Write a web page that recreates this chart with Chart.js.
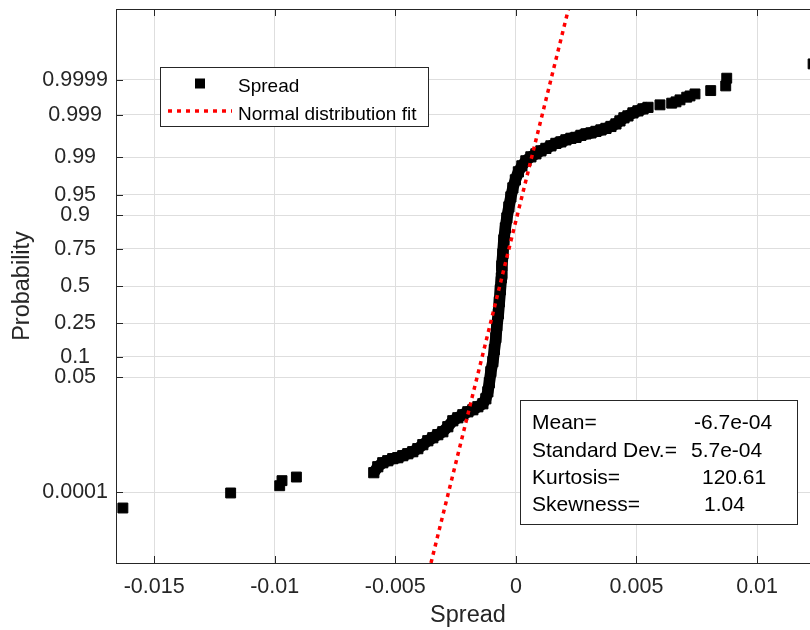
<!DOCTYPE html>
<html>
<head>
<meta charset="utf-8">
<script src="https://cdn.jsdelivr.net/npm/chart.js@4.4.0/dist/chart.umd.min.js"></script>
<style>
  html, body { margin: 0; padding: 0; background: #fff; overflow: hidden; }
  #wrap { width: 810px; height: 630px; overflow: hidden; }
</style>
</head>
<body>
<div id="wrap"><canvas id="probplot" width="830" height="630"></canvas></div>
<script>
// tick values
const xTicks = [-0.015, -0.01, -0.005, 0, 0.005, 0.01];
const probTicks = [0.0001, 0.05, 0.1, 0.25, 0.5, 0.75, 0.9, 0.95, 0.99, 0.999, 0.9999];

// dense part of the sample (spread value, plotting probability)
const spreadX = [-0.005892, -0.005726, -0.005519, -0.005311, -0.005104, -0.004896, -0.004689, -0.004481,
  -0.004274, -0.004066, -0.003859, -0.003651, -0.003444, -0.003237, -0.003029, -0.002822, -0.002614,
  -0.002407, -0.002199, -0.001992, -0.001784, -0.001577, -0.001369, -0.001245, -0.001162, -0.0011,
  -0.001037, -0.000954, -0.000892, -0.00083, -0.000788, -0.000726, -0.000685, -0.000643, -0.000602,
  -0.000581, -0.000539, -0.000498, -0.000436, -0.000373, -0.00029, -0.000207, -0.000124, -0.000021,
  0.000104, 0.000249, 0.000415, 0.000622, 0.00083, 0.001037, 0.001245, 0.001452, 0.00166, 0.001867,
  0.002075, 0.002282, 0.00249, 0.002697, 0.002905, 0.003112, 0.00332, 0.003527, 0.003734, 0.003942,
  0.004149, 0.004315, 0.004481, 0.004647, 0.004855, 0.005062, 0.00527, 0.005477];
const spreadP = [0.000376, 0.000552, 0.000711, 0.000805, 0.000914, 0.00097, 0.001095, 0.001233,
  0.00139, 0.00166, 0.00209, 0.00261, 0.00308, 0.00364, 0.00426, 0.00554, 0.0075,
  0.00869, 0.01005, 0.01158, 0.01275, 0.01465, 0.01677, 0.0209, 0.0281, 0.0404,
  0.061, 0.086, 0.1252, 0.1753, 0.2366, 0.308, 0.3879, 0.4727, 0.5588,
  0.642, 0.7192, 0.7974, 0.8528, 0.8904, 0.9233, 0.9461, 0.9617, 0.9723,
  0.98032, 0.98495, 0.98807, 0.99013, 0.99147, 0.99264, 0.99351, 0.99429, 0.99498, 0.99536,
  0.99583, 0.99616, 0.99635, 0.99673, 0.99698, 0.99714, 0.99737, 0.99758, 0.99778, 0.99801,
  0.99828, 0.99856, 0.9988, 0.99893, 0.99911, 0.999214, 0.999306, 0.999369];

// isolated tail points
const tailX = [-0.016295, -0.011826, -0.009793, -0.009697, -0.0091,
  0.005975, 0.006461, 0.006639, 0.006805, 0.007083, 0.00722, 0.007427, 0.008079, 0.008701, 0.008743, 0.012324];
const tailP = [0.0000307, 0.0000935, 0.000156, 0.000221, 0.000282,
  0.999462, 0.999517, 0.999556, 0.99961, 0.999673, 0.999699, 0.999737, 0.99979, 0.999848, 0.999912, 0.9999695];

// normal fit line end points
const fitX = [-0.00352, 0.00218];
const fitP = [0.000000287, 0.999999713];

const statLabels = ["Mean=", "Standard Dev.=", "Kurtosis=", "Skewness="];
const statValues = ["-6.7e-04", "5.7e-04", "120.61", "1.04"];

// inverse normal cdf (Acklam) - maps probability to the linear quantile axis
function norminv(p) {
  const a = [-3.969683028665376e+01, 2.209460984245205e+02, -2.759285104469687e+02, 1.383577518672690e+02, -3.066479806614716e+01, 2.506628277459239e+00];
  const b = [-5.447609879822406e+01, 1.615858368580409e+02, -1.556989798598866e+02, 6.680131188771972e+01, -1.328068155288572e+01];
  const c = [-7.784894002430293e-03, -3.223964580411365e-01, -2.400758277161838e+00, -2.549732539343734e+00, 4.374664141464968e+00, 2.938163982698783e+00];
  const d = [7.784695709041462e-03, 3.224671290700398e-01, 2.445134137142996e+00, 3.754408661907416e+00];
  const pl = 0.02425;
  let q, r;
  if (p < pl) {
    q = Math.sqrt(-2 * Math.log(p));
    return (((((c[0]*q+c[1])*q+c[2])*q+c[3])*q+c[4])*q+c[5]) / ((((d[0]*q+d[1])*q+d[2])*q+d[3])*q+1);
  }
  if (p > 1 - pl) {
    q = Math.sqrt(-2 * Math.log(1 - p));
    return -(((((c[0]*q+c[1])*q+c[2])*q+c[3])*q+c[4])*q+c[5]) / ((((d[0]*q+d[1])*q+d[2])*q+d[3])*q+1);
  }
  q = p - 0.5; r = q * q;
  return (((((a[0]*r+a[1])*r+a[2])*r+a[3])*r+a[4])*r+a[5])*q / (((((b[0]*r+b[1])*r+b[2])*r+b[3])*r+b[4])*r+1);
}

const toPoints = (xs, ps) => xs.map((v, i) => ({ x: v, y: norminv(ps[i]) }));

const FONT = "'Liberation Sans', Arial, sans-serif";
const AXIS = "#262626";

// frame, inward ticks, legend and stats box
const decorations = {
  id: "decorations",
  afterDatasetsDraw(chart) {
    const { ctx, chartArea: a, scales: { x, y } } = chart;
    ctx.save();
    ctx.strokeStyle = AXIS;
    ctx.lineWidth = 1;
    ctx.strokeRect(a.left + 0.5, a.top + 0.5, a.right - a.left, a.bottom - a.top);
    ctx.beginPath();
    xTicks.forEach(v => {
      const px = Math.round(x.getPixelForValue(v)) + 0.5;
      ctx.moveTo(px, a.bottom); ctx.lineTo(px, a.bottom - 7);
      ctx.moveTo(px, a.top); ctx.lineTo(px, a.top + 7);
    });
    probTicks.forEach(p => {
      const py = Math.round(y.getPixelForValue(norminv(p))) + 0.5;
      ctx.moveTo(a.left, py); ctx.lineTo(a.left + 7, py);
      ctx.moveTo(a.right, py); ctx.lineTo(a.right - 7, py);
    });
    ctx.stroke();

    // legend
    ctx.fillStyle = "#fff";
    ctx.fillRect(160.5, 67.5, 268, 59);
    ctx.strokeStyle = AXIS;
    ctx.strokeRect(160.5, 67.5, 268, 59);
    ctx.fillStyle = "#000";
    ctx.fillRect(195, 78.5, 10, 10);
    ctx.beginPath();
    ctx.strokeStyle = "#ff0000";
    ctx.lineWidth = 3.5;
    ctx.setLineDash([4, 5]);
    ctx.moveTo(168, 111); ctx.lineTo(232, 111);
    ctx.stroke();
    ctx.setLineDash([]);
    ctx.fillStyle = "#000";
    ctx.font = "19px " + FONT;
    ctx.textBaseline = "alphabetic";
    ctx.fillText("Spread", 238, 91.5);
    ctx.fillText("Normal distribution fit", 238, 119.5);

    // statistics box
    ctx.fillStyle = "#fff";
    ctx.fillRect(520.5, 400.5, 277, 124);
    ctx.strokeStyle = AXIS;
    ctx.lineWidth = 1;
    ctx.strokeRect(520.5, 400.5, 277, 124);
    ctx.fillStyle = "#000";
    ctx.font = "21px " + FONT;
    const rows = [429, 457, 484, 511];
    const valX = [694, 691, 702, 704];
    statLabels.forEach((t, i) => {
      ctx.fillText(t, 532, rows[i]);
      ctx.fillText(statValues[i], valX[i], rows[i]);
    });
    ctx.restore();
  }
};

new Chart(document.getElementById("probplot"), {
  type: "scatter",
  data: {
    datasets: [
      {
        label: "Normal distribution fit",
        data: toPoints(fitX, fitP),
        showLine: true,
        borderColor: "#ff0000",
        borderWidth: 3.5,
        borderDash: [4, 4.5],
        pointRadius: 0,
        order: 0
      },
      {
        label: "Spread",
        data: toPoints(spreadX, spreadP),
        showLine: true,
        borderColor: "#000",
        borderWidth: 11.5,
        borderJoinStyle: "round",
        backgroundColor: "#000",
        pointStyle: "rect",
        pointRadius: 7.2,
        pointBorderWidth: 1,
        pointBorderColor: "#000",
        order: 1
      },
      {
        label: "Spread tails",
        data: toPoints(tailX, tailP),
        showLine: false,
        backgroundColor: "#000",
        borderColor: "#000",
        pointStyle: "rect",
        pointRadius: 7,
        pointBorderWidth: 1,
        order: 2
      }
    ]
  },
  options: {
    responsive: false,
    animation: false,
    devicePixelRatio: 1,
    layout: { padding: { top: 9, left: 0, right: 10, bottom: 0 } },
    plugins: { legend: { display: false }, tooltip: { enabled: false } },
    scales: {
      x: {
        type: "linear",
        min: -0.01658,
        max: 0.01261,
        afterFit: s => { s.height = 67; s.paddingLeft = 0; s.paddingRight = 0; },
        afterBuildTicks: s => { s.ticks = xTicks.map(v => ({ value: v })); },
        grid: { color: "#dedede", drawTicks: false },
        border: { display: false },
        ticks: {
          autoSkip: false,
          maxRotation: 0,
          padding: 11.5,
          color: AXIS,
          font: { family: FONT, size: 21.5 },
          callback: (v, i) => String(xTicks[i])
        },
        title: {
          display: true,
          text: "Spread",
          color: AXIS,
          padding: { top: 0, bottom: 0 },
          font: { family: FONT, size: 23.5 }
        }
      },
      y: {
        type: "linear",
        min: -5,
        max: 5,
        afterFit: s => { s.width = 116; s.paddingTop = 0; s.paddingBottom = 0; },
        afterBuildTicks: s => { s.ticks = probTicks.map(p => ({ value: norminv(p) })); },
        grid: { color: "#dedede", drawTicks: false },
        border: { display: false },
        ticks: {
          autoSkip: false,
          padding: 8,
          crossAlign: "center",
          color: AXIS,
          font: { family: FONT, size: 21.5 },
          callback: (v, i) => String(probTicks[i])
        },
        title: {
          display: true,
          text: "Probability",
          color: AXIS,
          padding: { top: 8, bottom: 0 },
          font: { family: FONT, size: 23.5 }
        }
      }
    }
  },
  plugins: [decorations]
});
</script>
</body>
</html>
